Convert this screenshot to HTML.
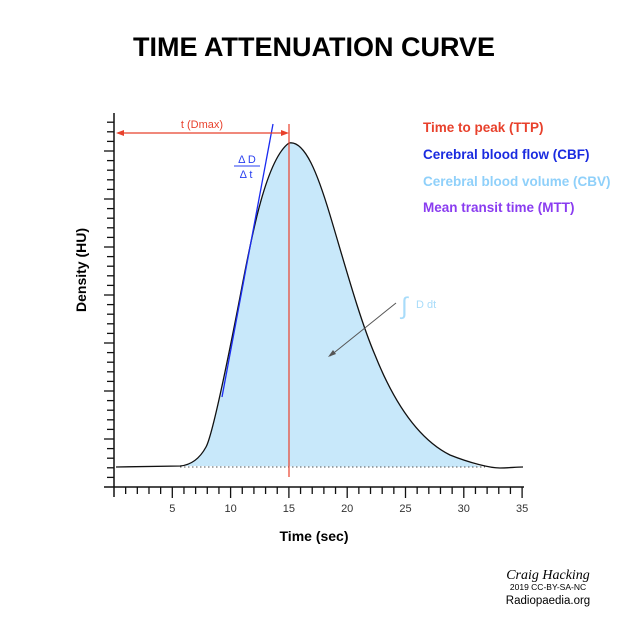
<!DOCTYPE html>
<html><head><meta charset="utf-8"><style>
html,body{margin:0;padding:0;background:#fff;}
svg{display:block;font-family:"Liberation Sans",Arial,sans-serif;}
</style></head><body>
<svg id="s" width="630" height="630" viewBox="0 0 630 630" xmlns="http://www.w3.org/2000/svg">
<rect width="630" height="630" fill="#fff"/>
<text x="314" y="56" text-anchor="middle" font-size="27" font-weight="bold" fill="#000">TIME ATTENUATION CURVE</text>
<path d="M180,466 C192,465 200,458 206,447 C211,438 222,390 240,297 C250,245 265,160 289,143 C305,140 318,175 330,215 C345,265 360,320 375,355 C395,405 420,440 450,455 C465,461 475,465 483,467 Z" fill="#c8e8fa"/>
<line x1="180" y1="467" x2="485" y2="467" stroke="#555" stroke-width="1" stroke-dasharray="1.5,2.5"/>
<path d="M116,467 L180,466 C192,465 200,458 206,447 C211,438 222,390 240,297 C250,245 265,160 289,143 C305,140 318,175 330,215 C345,265 360,320 375,355 C395,405 420,440 450,455 C470,463 490,468 500,468 C510,468 515,467 523,467" fill="none" stroke="#111" stroke-width="1.3"/>
<line x1="289" y1="124" x2="289" y2="477" stroke="#e8412c" stroke-width="1.2"/>
<line x1="222" y1="397" x2="273" y2="124" stroke="#1a2bf0" stroke-width="1.3"/>
<line x1="118" y1="133" x2="286" y2="133" stroke="#e8412c" stroke-width="1.3"/>
<path d="M116,133 L124,130 L124,136 Z M289,133 L281,130 L281,136 Z" fill="#e8412c"/>
<text x="202" y="128" text-anchor="middle" font-size="11" fill="#e8412c">t (Dmax)</text>
<text x="247" y="163" text-anchor="middle" font-size="11" fill="#2a40f0">Δ D</text>
<line x1="234" y1="166" x2="260" y2="166" stroke="#2a40f0" stroke-width="1"/>
<text x="246" y="178" text-anchor="middle" font-size="11" fill="#2a40f0">Δ t</text>
<line x1="396" y1="303" x2="330" y2="356" stroke="#555" stroke-width="1"/>
<path d="M328,357 L333,350 L336,354 Z" fill="#555"/>
<text x="401" y="314" font-size="24" fill="#a8dcfa">∫</text>
<text x="416" y="308" font-size="11" fill="#a8dcfa">D dt</text>
<g font-size="13.5" font-weight="bold">
<text x="423" y="132" fill="#e8412c">Time to peak (TTP)</text>
<text x="423" y="159" fill="#1a2be0">Cerebral blood flow (CBF)</text>
<text x="423" y="186" fill="#8fd0fa">Cerebral blood volume (CBV)</text>
<text x="423" y="212" fill="#8a3cf0">Mean transit time (MTT)</text>
</g>
<text transform="translate(86,270) rotate(-90)" text-anchor="middle" font-size="14" font-weight="bold" fill="#000">Density (HU)</text>
<text x="314" y="541" text-anchor="middle" font-size="14" font-weight="bold" fill="#000">Time (sec)</text>
<line x1="114" y1="113" x2="114" y2="497" stroke="#111" stroke-width="1.5"/>
<line x1="104" y1="487" x2="524" y2="487" stroke="#111" stroke-width="1.5"/>
<g id="ticks" stroke="#111" stroke-width="1.3"></g>
<g id="labs" font-size="11" fill="#333" text-anchor="middle"></g>
<text x="548" y="579" text-anchor="middle" font-size="14" font-style="italic" fill="#000" font-family="Liberation Serif, serif">Craig Hacking</text>
<text x="548" y="590" text-anchor="middle" font-size="8.5" fill="#000">2019 CC-BY-SA-NC</text>
<text x="548" y="604" text-anchor="middle" font-size="11.5" fill="#000">Radiopaedia.org</text>
</svg>
<script>
var ns="http://www.w3.org/2000/svg",t=document.getElementById('ticks'),l=document.getElementById('labs');
function ln(a,b,c,d){var e=document.createElementNS(ns,'line');e.setAttribute('x1',a);e.setAttribute('y1',b);e.setAttribute('x2',c);e.setAttribute('y2',d);t.appendChild(e);}
for(var k=1;k<=35;k++){var x=114+11.66*k;ln(x,487,x,k%5?494:498);if(k%5==0){var s=document.createElementNS(ns,'text');s.setAttribute('x',x);s.setAttribute('y',512);s.textContent=k;l.appendChild(s);}}
for(var k=1;k<=38;k++){var y=487-9.6*k;ln(k%5?107:104,y,114,y);}
</script>
</body></html>
